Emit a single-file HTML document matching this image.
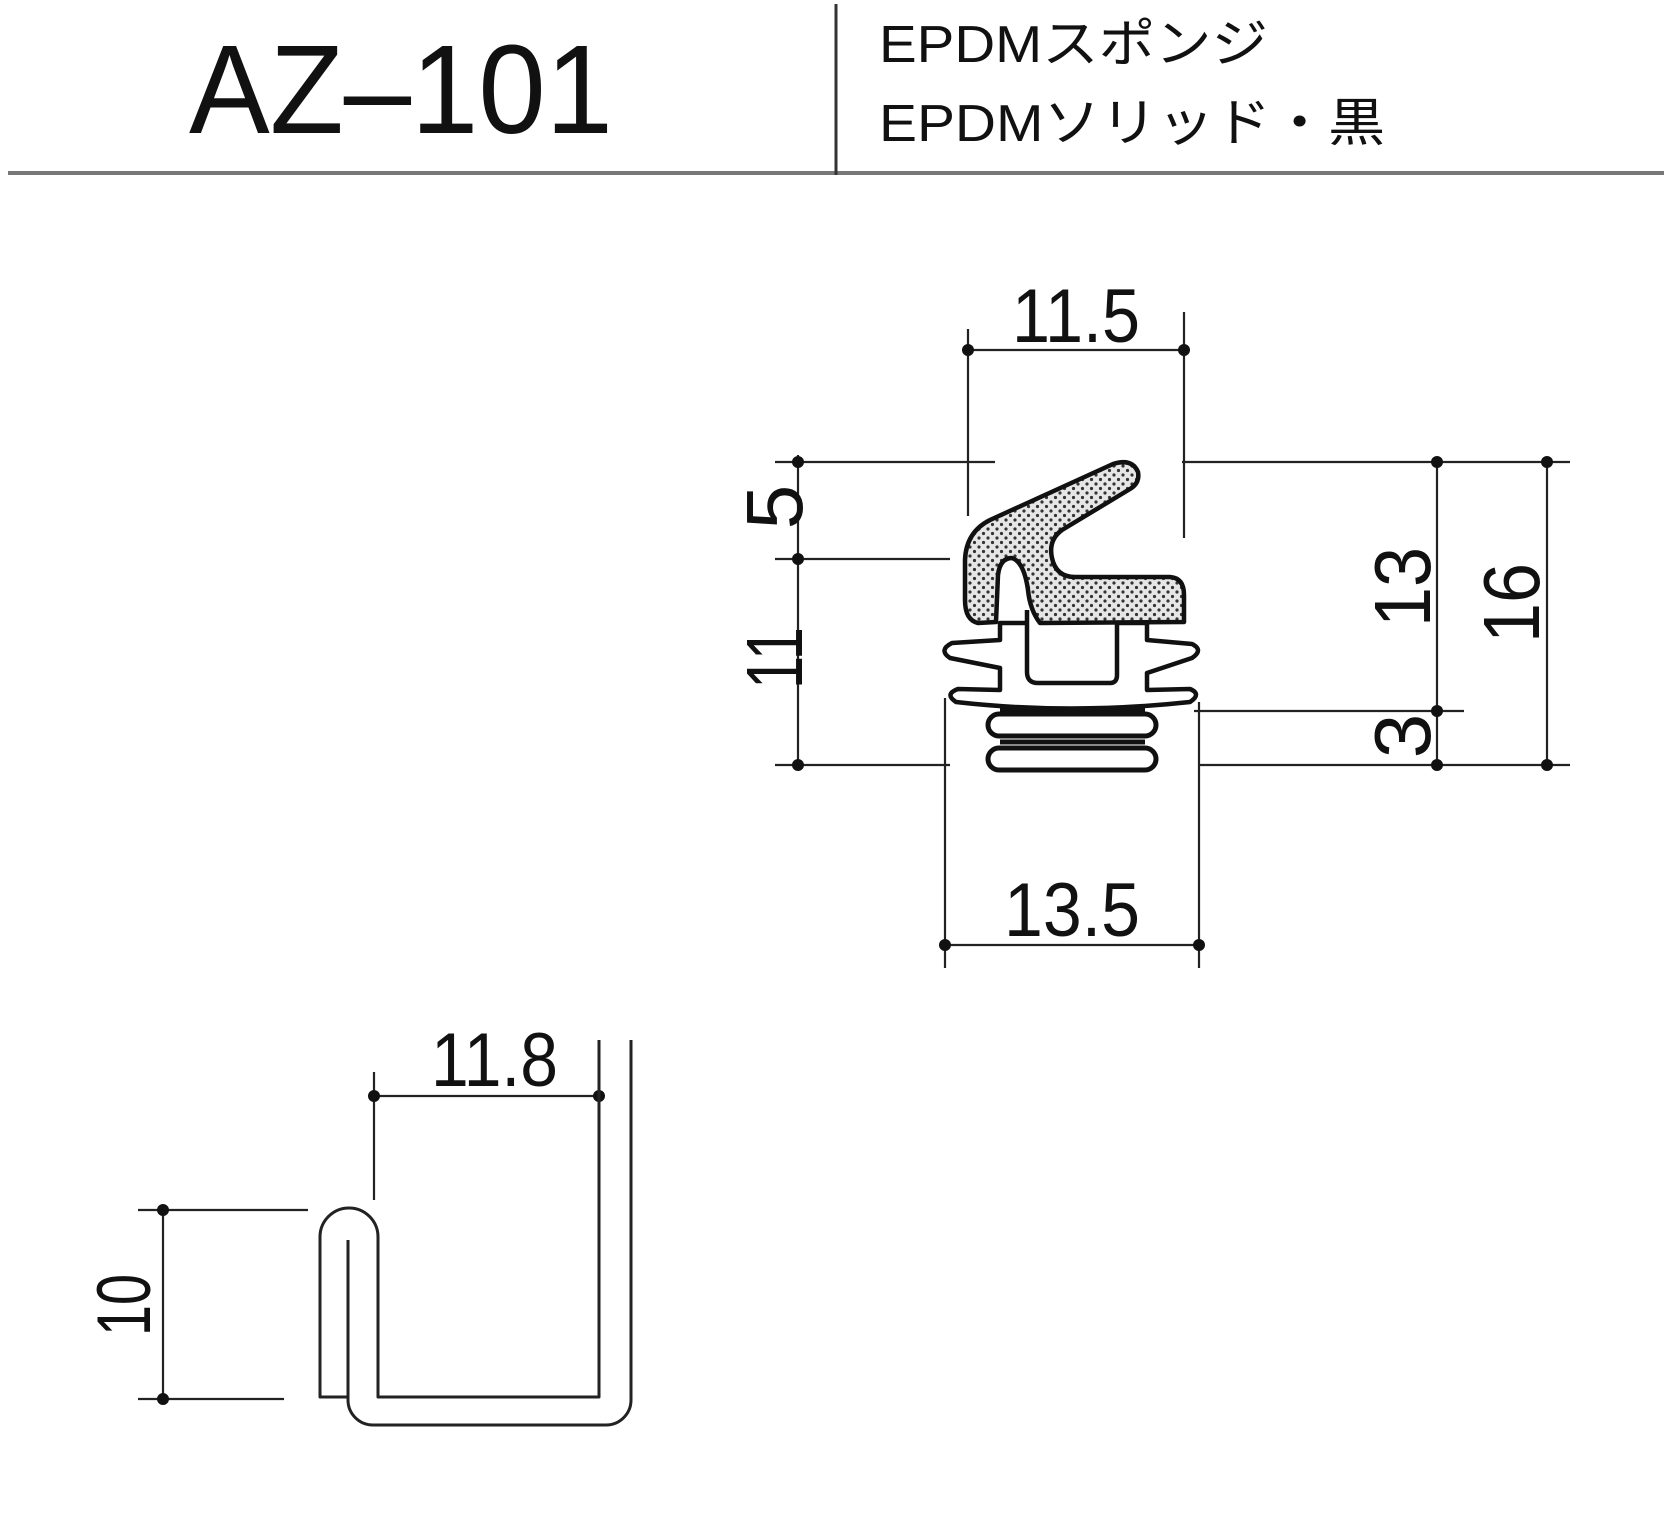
<!DOCTYPE html>
<html><head><meta charset="utf-8"><style>
html,body{margin:0;padding:0;background:#fff;}
svg{display:block;}
text{font-family:"Liberation Sans","Noto Sans CJK JP",sans-serif;fill:#111;}
</style></head><body>
<svg width="1664" height="1526" viewBox="0 0 1664 1526" xmlns="http://www.w3.org/2000/svg">
<defs>
<pattern id="dots" width="9" height="9" patternUnits="userSpaceOnUse">
<rect width="9" height="9" fill="#e6e6e6"/>
<circle cx="2.5" cy="2.5" r="1.6" fill="#333"/>
<circle cx="7" cy="7" r="1.6" fill="#333"/>
</pattern>
</defs>
<!-- header -->
<line x1="8" y1="173" x2="1664" y2="173" stroke="#777" stroke-width="4"/>
<line x1="836" y1="4" x2="836" y2="175" stroke="#333" stroke-width="3"/>
<text x="189" y="133" font-size="126" textLength="424" lengthAdjust="spacingAndGlyphs">AZ–101</text>
<text x="879" y="62" font-size="52" textLength="389" lengthAdjust="spacingAndGlyphs">EPDMスポンジ</text>
<text x="879" y="141" font-size="52" textLength="506" lengthAdjust="spacingAndGlyphs">EPDMソリッド・黒</text>

<g stroke="#222" stroke-width="2.2" fill="none">
<!-- 11.5 -->
<line x1="968" y1="329" x2="968" y2="516"/>
<line x1="1184" y1="312" x2="1184" y2="538"/>
<line x1="968" y1="350" x2="1184" y2="350"/>
<!-- left -->
<line x1="798" y1="455" x2="798" y2="768"/>
<line x1="775" y1="462" x2="995" y2="462"/>
<line x1="775" y1="559" x2="950" y2="559"/>
<line x1="775" y1="765" x2="950" y2="765"/>
<!-- right -->
<line x1="1182" y1="462" x2="1570" y2="462"/>
<line x1="1194" y1="711" x2="1464" y2="711"/>
<line x1="1200" y1="765" x2="1570" y2="765"/>
<line x1="1437" y1="462" x2="1437" y2="765"/>
<line x1="1547" y1="462" x2="1547" y2="765"/>
<!-- bottom -->
<line x1="945" y1="698" x2="945" y2="968"/>
<line x1="1199" y1="702" x2="1199" y2="968"/>
<line x1="945" y1="945" x2="1199" y2="945"/>
<!-- lower-left -->
<line x1="374" y1="1072" x2="374" y2="1200"/>
<line x1="374" y1="1096" x2="599" y2="1096"/>
<line x1="163" y1="1210" x2="163" y2="1399"/>
<line x1="138" y1="1210" x2="308" y2="1210"/>
<line x1="138" y1="1399" x2="284" y2="1399"/>
</g>
<g fill="#111">
<circle cx="968" cy="350" r="6"/><circle cx="1184" cy="350" r="6"/>
<circle cx="798" cy="462" r="6"/><circle cx="798" cy="559" r="6"/><circle cx="798" cy="765" r="6"/>
<circle cx="1437" cy="462" r="6"/><circle cx="1437" cy="711" r="6"/><circle cx="1437" cy="765" r="6"/>
<circle cx="1547" cy="462" r="6"/><circle cx="1547" cy="765" r="6"/>
<circle cx="945" cy="945" r="6"/><circle cx="1199" cy="945" r="6"/>
<circle cx="374" cy="1096" r="6"/><circle cx="599" cy="1096" r="6"/>
<circle cx="163" cy="1210" r="6"/><circle cx="163" cy="1399" r="6"/>
</g>

<!-- dimension texts -->
<text x="1012" y="342" font-size="76" textLength="128" lengthAdjust="spacingAndGlyphs">11.5</text>
<text x="1004" y="936" font-size="76" textLength="136" lengthAdjust="spacingAndGlyphs">13.5</text>
<text x="0" y="0" font-size="80" transform="translate(802,507) rotate(-90)" text-anchor="middle">5</text>
<text x="0" y="0" font-size="80" transform="translate(802,658) rotate(-90)" text-anchor="middle" textLength="62" lengthAdjust="spacingAndGlyphs">11</text>
<text x="0" y="0" font-size="80" transform="translate(1430,587) rotate(-90)" text-anchor="middle" textLength="80" lengthAdjust="spacingAndGlyphs">13</text>
<text x="0" y="0" font-size="80" transform="translate(1430,736) rotate(-90)" text-anchor="middle">3</text>
<text x="0" y="0" font-size="80" transform="translate(1539,603) rotate(-90)" text-anchor="middle" textLength="80" lengthAdjust="spacingAndGlyphs">16</text>
<text x="431" y="1086" font-size="76" textLength="127" lengthAdjust="spacingAndGlyphs">11.8</text>
<text x="0" y="0" font-size="76" transform="translate(150,1305) rotate(-90)" text-anchor="middle" textLength="62" lengthAdjust="spacingAndGlyphs">10</text>

<!-- profile -->
<g stroke="#111" stroke-width="4.5" stroke-linejoin="round" fill="#fff">
<path d="M1000,623 L1000,640 L952,643 Q938,650 950,658 L1000,668 L1000,690 L958,689 Q944,694 956,702 Q1070,715 1190,702 Q1202,694 1190,689 L1147,690 L1147,673 L1192,658 Q1204,650 1192,644 L1147,640 L1147,623 Z"/>
<path d="M1027,610 L1027,672 Q1027,683 1038,683 L1110,683 Q1117,683 1117,675 L1117,623"/>
<path fill="url(#dots)" d="M1113,464 Q1132,458 1138,472 Q1140,483 1130,489 L1062,530 Q1048,540 1052,558 Q1056,577 1075,577 L1170,577 Q1184,578 1184,595 L1184,622 L1040,623 Q1030,610 1028,590 Q1024,562 1012,558 Q1000,558 998,575 L996,622 L978,623 Q965,620 965,600 L965,560 Q966,532 990,520 Z"/>
<rect x="988" y="714" width="168" height="22" rx="11" stroke-width="5"/>
<rect x="988" y="748" width="168" height="22" rx="11" stroke-width="5"/>
</g>
<line x1="1000" y1="710" x2="1145" y2="710" stroke="#111" stroke-width="5"/>
<line x1="1000" y1="742" x2="1145" y2="742" stroke="#111" stroke-width="5"/>

<!-- channel -->
<g stroke="#222" stroke-width="3" fill="none" stroke-linejoin="round">
<path d="M599,1040 L599,1397 L378,1397 L378,1237 A29,29 0 0 0 320,1237 L320,1397 L348,1397"/>
<path d="M348,1240 L348,1400 A25,25 0 0 0 373,1425 L606,1425 A25,25 0 0 0 631,1400 L631,1040"/>
</g>
</svg>
</body></html>
